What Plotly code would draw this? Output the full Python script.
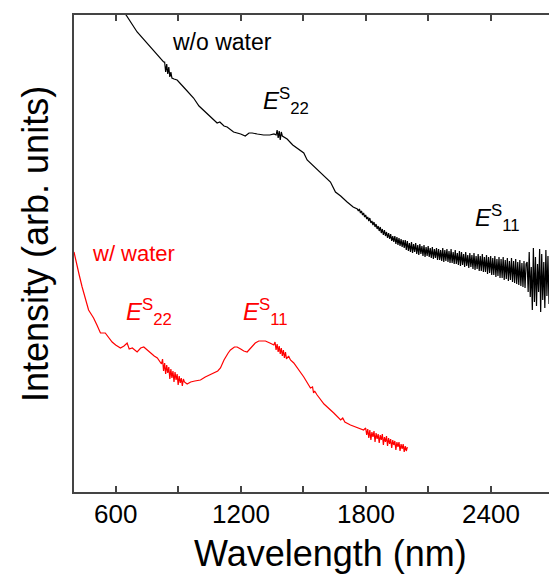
import plotly.graph_objects as go

# ---- black curve: w/o water (wavelength nm, intensity arb.) ----
wo_x = [600, 650, 703, 760, 815, 830, 835, 840, 845, 850, 855, 860, 865, 870, 880, 895,
        930, 974, 1000, 1040, 1087, 1100, 1120, 1135, 1166, 1200, 1222, 1240, 1255, 1280,
        1310, 1340, 1360, 1370, 1375, 1380, 1385, 1390, 1395, 1400, 1410, 1423, 1450, 1480,
        1503, 1519, 1551, 1580, 1600, 1631, 1655, 1680, 1711, 1740,
        1760, 1765, 1770, 1775, 1780, 1785, 1790, 1795, 1800, 1805, 1810, 1815, 1820, 1825,
        1830, 1835, 1840, 1845, 1850, 1855, 1860, 1865, 1870, 1875, 1880, 1885, 1890, 1895,
        1900, 1905, 1910, 1915, 1920, 1925, 1930, 1935, 1940, 1945, 1950, 1955, 1960, 1965,
        1970, 1975, 1980, 1985, 1990, 1995,
        2000, 2005, 2010, 2015, 2020, 2025, 2030, 2035, 2040, 2045, 2050,
        2055, 2060, 2065, 2070, 2075, 2080, 2085, 2090, 2095, 2100,
        2105, 2110, 2115, 2120, 2125, 2130, 2135, 2140, 2145, 2150,
        2155, 2160, 2165, 2170, 2175, 2180, 2185, 2190, 2195, 2200,
        2205, 2210, 2215, 2220, 2225, 2230, 2235, 2240, 2245, 2250,
        2255, 2260, 2265, 2270, 2275, 2280, 2285, 2290, 2295, 2300,
        2305, 2310, 2315, 2320, 2325, 2330, 2335, 2340, 2345, 2350,
        2355, 2360, 2365, 2370, 2375, 2380, 2385, 2390, 2395, 2400,
        2405, 2410, 2415, 2420, 2425, 2430, 2435, 2440, 2445, 2450,
        2455, 2460, 2465, 2470, 2475, 2480, 2485, 2490, 2495, 2500,
        2505, 2510, 2515, 2520, 2525, 2530, 2535, 2540, 2545, 2550, 2555, 2560, 2565, 2570,
        2575, 2580, 2585, 2590, 2595, 2600, 2605, 2610, 2615, 2620, 2625, 2630, 2635, 2640,
        2645, 2650, 2655, 2660, 2665, 2670, 2675, 2680]
wo_y = [490, 477, 460, 447, 434, 430, 430, 420, 428, 418, 425, 415, 420, 414, 413, 412,
        404, 394, 386, 378, 369, 370, 366, 365, 360, 358, 356, 359, 359, 358,
        357, 357, 358, 357, 362, 354, 361, 352, 360, 356, 355, 353, 347, 342,
        339, 332, 326, 320, 316, 310, 300, 296, 290, 285,
        283, 281, 283, 279, 281, 277, 279, 275, 277, 273, 275, 271, 274, 269,
        271, 267, 270, 265, 268, 263, 266, 261, 265, 259, 263, 257, 262, 256,
        260, 254, 259, 253, 258, 251, 256, 250, 256, 248, 255, 247, 254, 246,
        253, 245, 252, 244, 252, 242,
        251, 241, 249, 240, 250, 239, 248, 240, 249, 238, 247,
        237, 248, 238, 246, 236, 247, 235, 245, 236, 246,
        235, 244, 234, 245, 233, 243, 234, 244, 232, 243,
        232, 242, 231, 244, 230, 242, 231, 243, 230, 241,
        229, 243, 229, 240, 228, 242, 228, 239, 227, 241,
        226, 240, 227, 238, 225, 240, 226, 237, 224, 239,
        225, 237, 223, 239, 222, 236, 223, 238, 221, 236,
        221, 238, 220, 235, 220, 237, 218, 235, 219, 236,
        217, 234, 217, 236, 215, 233, 216, 235, 214, 233,
        214, 235, 212, 232, 213, 234, 211, 231, 212, 234,
        210, 231, 209, 233, 208, 230, 207, 232, 206, 229, 205, 231, 204, 228,
        230, 200, 240, 195, 225, 182, 244, 190, 235, 186, 228, 200, 243, 180,
        238, 192, 230, 184, 242, 196, 236, 188]

# ---- red curve: w/ water ----
w_x = [400, 405, 413, 425, 439, 450, 470, 485, 494, 510, 527, 550, 560, 583, 600, 623,
       640, 655, 665, 680, 703, 720, 735, 750, 767, 785, 800, 815,
       820, 825, 830, 835, 840, 845, 850, 855, 860, 865, 870, 875, 880, 885, 890, 895,
       900, 905, 910, 915, 920, 925, 930, 943, 960, 980, 1007, 1030, 1050, 1071, 1090, 1103,
       1120, 1140, 1151, 1170, 1183, 1200, 1215, 1231, 1250, 1270, 1287, 1319, 1340, 1359,
       1365, 1370, 1375, 1380, 1385, 1390, 1395, 1400, 1405, 1410, 1415, 1420, 1430, 1439,
       1455, 1480, 1503, 1535, 1545, 1550, 1555, 1567, 1600, 1647, 1680, 1690, 1700, 1727, 1760,
       1790, 1800, 1805, 1810, 1815, 1820, 1825, 1830, 1835, 1840, 1845, 1850, 1855, 1860,
       1865, 1870, 1875, 1880, 1885, 1890, 1895, 1900, 1905, 1910, 1915, 1920, 1925, 1930,
       1935, 1940, 1945, 1950, 1955, 1960, 1965, 1970, 1975, 1980, 1985, 1990, 1995, 2000]
w_y = [240, 236, 229, 217, 205, 197, 182, 177, 174, 167, 159, 159, 156, 150, 147, 144,
       146, 149, 143, 144, 140, 144, 145, 142, 139, 136, 134, 130,
       128, 133, 121, 129, 118, 127, 119, 125, 113, 123, 114, 121, 110, 120, 112, 118,
       107, 116, 109, 114, 106, 113, 110, 108, 110, 111, 112, 115, 117, 119, 121, 124,
       132, 139, 142, 145, 145, 143, 141, 140, 144, 149, 151, 151, 149, 147,
       150, 142, 148, 140, 146, 138, 144, 136, 142, 134, 140, 133, 136, 132,
       129, 122, 115, 104, 105, 99, 101, 97, 88, 79, 72, 74, 70, 67, 64,
       62, 64, 57, 63, 54, 62, 52, 60, 55, 61, 50, 59, 53, 58,
       49, 57, 52, 58, 47, 55, 50, 56, 46, 54, 48, 53, 44, 52,
       47, 51, 42, 50, 45, 50, 41, 48, 43, 48, 40, 46, 41, 45]

x_range = [400, 2680]
y_range = [0, 477]
x_major = [600, 1200, 1800, 2400]
x_major_labels = ["600", "1200", "1800", "2400"]
x_minor = [900, 1500, 2100]

FONT = "Arial, Liberation Sans, sans-serif"

fig = go.Figure()
fig.add_trace(go.Scatter(x=wo_x, y=wo_y, mode="lines",
                         line=dict(color="black", width=1.2), showlegend=False))
fig.add_trace(go.Scatter(x=w_x, y=w_y, mode="lines",
                         line=dict(color="#ff0000", width=1.2), showlegend=False))

L, T, W, H = 74, 15, 475, 477


def px(x):
    return (x - L) / W


def py(y):
    return (T + H - y) / H


ann = [
    dict(text="w/o water", x=px(222), y=py(42), color="black", size=23),
    dict(text="w/ water", x=px(133), y=py(254), color="#ff0000", size=22),
    dict(text="<i>E</i><sup>S</sup><sub>22</sub>", x=px(286), y=py(101), color="black", size=24),
    dict(text="<i>E</i><sup>S</sup><sub>11</sub>", x=px(497), y=py(218), color="black", size=24),
    dict(text="<i>E</i><sup>S</sup><sub>22</sub>", x=px(149), y=py(312), color="#ff0000", size=24),
    dict(text="<i>E</i><sup>S</sup><sub>11</sub>", x=px(265), y=py(312), color="#ff0000", size=24),
]
for a in ann:
    fig.add_annotation(text=a["text"], x=a["x"], y=a["y"], xref="paper", yref="paper",
                       showarrow=False, xanchor="center", yanchor="middle",
                       font=dict(family=FONT, size=a["size"], color=a["color"]))

# tick labels placed on the x scale
for v, lab in zip(x_major, x_major_labels):
    fig.add_annotation(text=lab, x=v, y=py(514), xref="x", yref="paper",
                       showarrow=False, xanchor="center", yanchor="middle",
                       font=dict(family=FONT, size=26, color="black"))

fig.add_annotation(text="Wavelength (nm)", x=px(330), y=py(553), xref="paper", yref="paper",
                   showarrow=False, xanchor="center", yanchor="middle",
                   font=dict(family=FONT, size=36, color="black"))
fig.add_annotation(text="Intensity (arb. units)", x=px(35), y=py(244), xref="paper", yref="paper",
                   showarrow=False, xanchor="center", yanchor="middle", textangle=-90,
                   font=dict(family=FONT, size=36, color="black"))

fig.update_layout(
    width=549, height=579,
    margin=dict(l=L, r=0, t=T, b=579 - T - H),
    paper_bgcolor="white", plot_bgcolor="white",
    font=dict(family=FONT, color="black"),
    xaxis=dict(range=x_range, tickvals=x_major, showticklabels=False,
               ticks="inside", ticklen=6, tickwidth=1.5, tickcolor="#444",
               showline=True, linecolor="#444", linewidth=2, mirror="ticks",
               showgrid=False, zeroline=False,
               minor=dict(tickvals=x_minor, ticks="inside", ticklen=6,
                          tickwidth=1.5, tickcolor="#444", showgrid=False)),
    yaxis=dict(range=y_range, showticklabels=False, ticks="",
               showline=True, linecolor="#444", linewidth=2, mirror=False,
               showgrid=False, zeroline=False),
)

fig.write_html("out.html")
